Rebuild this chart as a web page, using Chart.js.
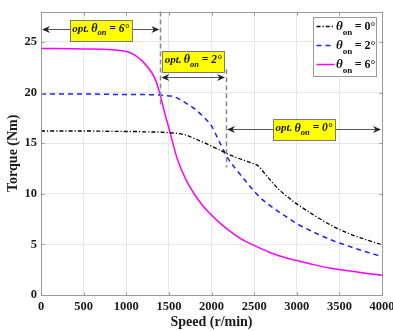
<!DOCTYPE html>
<html>
<head>
<meta charset="utf-8">
<script src="https://cdn.jsdelivr.net/npm/chart.js@4.4.0/dist/chart.umd.min.js"></script>
<style>
    html, body { margin: 0; padding: 0; background: #fff; }
    #wrap { width: 393px; height: 331px; }
</style>
</head>
<body>
<div id="wrap"><canvas id="torque-chart" width="393" height="331"></canvas></div>
<script>
// Speed grid (r/min) and torque curves (Nm) for each turn-on angle
const speed = [0, 500, 1000, 1100, 1200, 1300, 1350, 1400, 1450, 1500, 1550, 1600, 1700, 1800, 1900, 2000,
    2100, 2200, 2300, 2400, 2500, 2550, 2600, 2700, 2800, 2900, 3000, 3200, 3400, 3600, 3800, 4000];
const torque0 = [16.2, 16.2, 16.15, 16.15, 16.12, 16.1, 16.1, 16.08, 16.06, 16.03, 16.0, 15.96, 15.8, 15.45, 15.1, 14.7,
    14.3, 13.9, 13.55, 13.25, 12.95, 12.75, 12.25, 11.25, 10.35, 9.65, 9.0, 7.9, 6.9, 6.1, 5.5, 4.95];
const torque2 = [19.85, 19.85, 19.8, 19.8, 19.8, 19.78, 19.77, 19.75, 19.72, 19.66, 19.6, 19.45, 18.95, 18.4, 17.65, 16.7,
    15.0, 13.4, 12.3, 11.25, 10.25, 9.8, 9.4, 8.75, 8.15, 7.6, 7.05, 6.2, 5.45, 4.85, 4.3, 3.8];
const torque6 = [24.35, 24.3, 24.05, 23.7, 23.0, 21.95, 21.1, 19.7, 18.0, 16.5, 14.9, 13.4, 11.4, 9.95, 8.8, 7.9,
    7.1, 6.4, 5.8, 5.3, 4.9, 4.7, 4.5, 4.15, 3.85, 3.6, 3.4, 3.0, 2.65, 2.4, 2.15, 1.95];
const seriesAngles = ['0°', '2°', '6°'];

// Optimal turn-on angle regions along the speed axis
const boundarySpeed = [1400, 2170];
const boundaryTop = [28, 22.3];
const boundaryBottom = [18.6, 12.6];
const optFrom = [0, 1400, 2170];
const optTo = [1400, 2170, 4000];
const optAngles = ['6°', '2°', '0°'];
const optArrowY = [26.3, 21.5, 16.4];
const optBoxY = [26.15, 23.05, 16.3];

const SERIF = '"Liberation Serif", "Times New Roman", serif';

function toPoints(ys) {
    return speed.map((s, i) => ({ x: s, y: ys[i] }));
}

// Text runs let θ carry a lowered "on" subscript
function measureRuns(ctx, runs) {
    let w = 0;
    runs.forEach(r => { ctx.font = r.font; w += ctx.measureText(r.t).width; });
    return w;
}
function drawRuns(ctx, runs, x, y) {
    ctx.textBaseline = 'middle';
    ctx.textAlign = 'left';
    runs.forEach(r => {
        ctx.font = r.font;
        ctx.fillText(r.t, x, y + (r.dy || 0));
        x += ctx.measureText(r.t).width;
    });
}

function arrowHead(ctx, x, y, dir) {
    ctx.beginPath();
    ctx.moveTo(x, y);
    ctx.lineTo(x - dir * 8, y - 3.5);
    ctx.lineTo(x - dir * 5.5, y);
    ctx.lineTo(x - dir * 8, y + 3.5);
    ctx.closePath();
    ctx.fill();
}

const annotationPlugin = {
    id: 'optAnnotations',
    afterDatasetsDraw(chart) {
        const ctx = chart.ctx;
        const xs = chart.scales.x, ys = chart.scales.y;
        const area = chart.chartArea;
        ctx.save();

        // region boundaries
        ctx.strokeStyle = '#8a8a8a';
        ctx.lineWidth = 1.5;
        ctx.setLineDash([5, 3]);
        boundarySpeed.forEach((s, i) => {
            const px = Math.round(xs.getPixelForValue(s)) + 0.5;
            ctx.beginPath();
            ctx.moveTo(px, ys.getPixelForValue(boundaryTop[i]));
            ctx.lineTo(px, ys.getPixelForValue(boundaryBottom[i]));
            ctx.stroke();
        });
        ctx.setLineDash([]);

        // double arrows with yellow labels
        optFrom.forEach((from, i) => {
            const x1 = xs.getPixelForValue(from) + 1;
            const x2 = xs.getPixelForValue(optTo[i]) - 1;
            const y = Math.round(ys.getPixelForValue(optArrowY[i])) + 0.5;
            ctx.strokeStyle = '#555';
            ctx.lineWidth = 1;
            ctx.beginPath();
            ctx.moveTo(x1 + 4, y);
            ctx.lineTo(x2 - 4, y);
            ctx.stroke();
            ctx.fillStyle = '#222';
            arrowHead(ctx, x1, y, -1);
            arrowHead(ctx, x2, y, 1);

            const runs = [
                { t: 'opt.\u2009', font: 'italic bold 11px ' + SERIF },
                { t: 'θ', font: 'italic bold 12px ' + SERIF },
                { t: 'on', font: 'italic bold 8.5px ' + SERIF, dy: 4.5 },
                { t: ' = ' + optAngles[i], font: 'italic bold 11.5px ' + SERIF }
            ];
            const tw = measureRuns(ctx, runs);
            const bw = 62, bh = 21;
            const cx = (x1 + x2) / 2;
            const cy = ys.getPixelForValue(optBoxY[i]);
            const bx = Math.round(cx - bw / 2) + 0.5, by = Math.round(cy - bh / 2) + 0.5;
            ctx.fillStyle = '#ffff00';
            ctx.fillRect(bx, by, bw, bh);
            ctx.strokeStyle = '#7a7a7a';
            ctx.strokeRect(bx, by, bw, bh);
            ctx.fillStyle = '#111';
            drawRuns(ctx, runs, cx - tw / 2, cy - 1.5);
        });

        // legend box
        const lx = 313.5, ly = 17.5, lw = 63, lh = 59;
        ctx.fillStyle = '#fff';
        ctx.fillRect(lx, ly, lw, lh);
        ctx.strokeStyle = '#9a9a9a';
        ctx.lineWidth = 1;
        ctx.strokeRect(lx, ly, lw, lh);
        chart.data.datasets.forEach((ds, i) => {
            const yy = ly + 9 + i * 19;
            ctx.strokeStyle = ds.borderColor;
            ctx.lineWidth = ds.borderWidth;
            ctx.setLineDash(ds.borderDash || []);
            ctx.beginPath();
            ctx.moveTo(lx + 3, yy);
            ctx.lineTo(lx + 21, yy);
            ctx.stroke();
            ctx.setLineDash([]);
            ctx.fillStyle = '#111';
            drawRuns(ctx, [
                { t: 'θ', font: 'italic bold 13px ' + SERIF },
                { t: 'on', font: 'bold 9px ' + SERIF, dy: 6 },
                { t: '\u2009= ' + seriesAngles[i], font: 'bold 12px ' + SERIF }
            ], lx + 22.5, yy);
        });

        // axes frame with inward ticks
        ctx.strokeStyle = '#9a9a9a';
        ctx.lineWidth = 1;
        const L = Math.round(area.left) + 0.5, R = Math.round(area.right) + 0.5;
        const T = Math.round(area.top) + 0.5, B = Math.round(area.bottom) + 0.5;
        ctx.strokeRect(L, T, R - L, B - T);
        ctx.beginPath();
        xs.ticks.forEach(t => {
            const px = Math.round(xs.getPixelForValue(t.value)) + 0.5;
            ctx.moveTo(px, B); ctx.lineTo(px, B - 3);
            ctx.moveTo(px, T); ctx.lineTo(px, T + 3);
        });
        ys.ticks.forEach(t => {
            const py = Math.round(ys.getPixelForValue(t.value)) + 0.5;
            ctx.moveTo(L, py); ctx.lineTo(L + 3, py);
            ctx.moveTo(R, py); ctx.lineTo(R - 3, py);
        });
        ctx.stroke();
        ctx.restore();
    }
};

const tickFont = { family: SERIF, size: 12.5, weight: 'bold' };
const titleFont = { family: SERIF, size: 14, weight: 'bold' };

new Chart(document.getElementById('torque-chart'), {
    type: 'line',
    data: {
        datasets: [{
            label: 'θon = 0°',
            data: toPoints(torque0),
            borderColor: '#000000',
            borderWidth: 1.3,
            borderDash: [4, 2, 1.2, 2],
            pointRadius: 0,
            cubicInterpolationMode: 'monotone'
        }, {
            label: 'θon = 2°',
            data: toPoints(torque2),
            borderColor: '#1f1fff',
            borderWidth: 1.5,
            borderDash: [5, 4],
            pointRadius: 0,
            cubicInterpolationMode: 'monotone'
        }, {
            label: 'θon = 6°',
            data: toPoints(torque6),
            borderColor: '#ff00ff',
            borderWidth: 1.5,
            pointRadius: 0,
            cubicInterpolationMode: 'monotone'
        }]
    },
    options: {
        responsive: false,
        animation: false,
        devicePixelRatio: 1,
        layout: { padding: { top: 9, right: 11, left: 0, bottom: 0 } },
        plugins: {
            legend: { display: false },
            tooltip: { enabled: false }
        },
        scales: {
            x: {
                type: 'linear',
                min: 0,
                max: 4000,
                ticks: { stepSize: 500, padding: 4, color: '#1a1a1a', font: tickFont, maxRotation: 0, autoSkip: false,
                    callback: v => String(v) },
                grid: { color: '#e8e8e8', drawTicks: false },
                border: { display: false },
                title: { display: true, text: 'Speed (r/min)', color: '#1a1a1a', font: titleFont, padding: { top: 0, bottom: 0 } },
                afterFit: scale => {
                    scale.height = 36;
                    scale.paddingLeft = 0;
                    scale.paddingRight = 0;
                }
            },
            y: {
                min: 0,
                max: 28,
                ticks: { stepSize: 5, padding: 4, color: '#1a1a1a', font: tickFont, includeBounds: false },
                grid: { color: '#e8e8e8', drawTicks: false },
                border: { display: false },
                title: { display: true, text: 'Torque (Nm)', color: '#1a1a1a', font: titleFont, padding: { top: 5, bottom: 0 } },
                afterFit: scale => { scale.width = 41; }
            }
        }
    },
    plugins: [annotationPlugin]
});
</script>
</body>
</html>
